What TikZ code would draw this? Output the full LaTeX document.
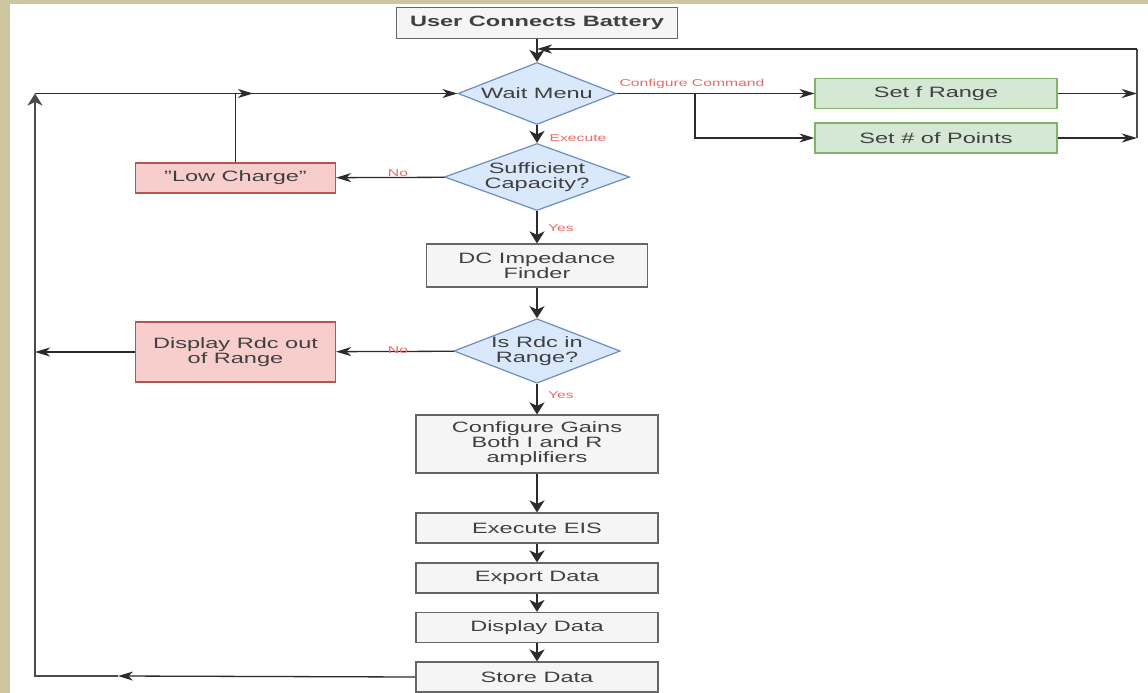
\documentclass[tikz,border=0pt]{standalone}
\usepackage{fontspec}
\setmainfont{Liberation Sans}[FakeStretch=1.57]
\usetikzlibrary{arrows.meta,shapes.geometric}

\definecolor{pagetan}{RGB}{205,197,160}
\definecolor{ink}{HTML}{2B2B2B}
\definecolor{boxfill}{HTML}{F5F5F5}
\definecolor{boxline}{HTML}{666666}
\definecolor{bluefill}{HTML}{DAE8FC}
\definecolor{blueline}{HTML}{6C8EBF}
\definecolor{redfill}{HTML}{F8CECC}
\definecolor{redline}{HTML}{B85450}
\definecolor{greenfill}{HTML}{D5E8D4}
\definecolor{greenline}{HTML}{82B366}
\definecolor{labelred}{HTML}{EA6B66}

\tikzset{
  base/.style={line width=1.2pt, text=ink!90, align=center, inner sep=0pt,
    font=\fontsize{15}{15}\selectfont},
  greybox/.style={base, rectangle, draw=boxline, fill=boxfill},
  redbox/.style={base, rectangle, draw=redline, fill=redfill},
  greenbox/.style={base, rectangle, draw=greenline, fill=greenfill},
  decision/.style={base, diamond, draw=blueline, fill=bluefill},
  vflow/.style={draw=ink, line width=2pt,
    -{Stealth[length=12pt,width=15pt,inset=3.5pt]}},
  hflow/.style={draw=ink, line width=1.3pt,
    -{Stealth[length=15pt,width=9pt,inset=4.5pt]}},
  bus/.style={draw=ink!85, line width=2.2pt},
  lbl/.style={text=labelred, inner sep=0pt,
    font=\fontsize{10}{10}\selectfont},
}

\begin{document}
\begin{tikzpicture}[x=1pt,y=-1pt]
  % page frame
  \fill[pagetan] (0,0) rectangle (1148,693);
  \fill[white] (10,4) rectangle (1148,693);
  \useasboundingbox (0,0) rectangle (1148,693);

  % main column
  \node[greybox, minimum width=281pt, minimum height=31pt, font=\fontsize{15}{15}\selectfont\bfseries]
    (ucb) at (537,23) {User Connects Battery};
  \node[decision, aspect=2.55, minimum width=158pt, minimum height=62pt] (wm) at (537,93.5) {Wait Menu};
  \node[decision, aspect=2.76, minimum width=185pt, minimum height=67pt] (sc) at (537,177) {Sufficient\\Capacity?};
  \node[greybox, minimum width=221pt, minimum height=43pt] (dc) at (537,265.5) {DC Impedance\\Finder};
  \node[decision, aspect=2.58, minimum width=160pt, minimum height=62pt] (ir) at (537,351) {Is Rdc in\\Range?};
  \node[greybox, minimum width=242pt, minimum height=58pt] (cg) at (537,444)
    {Configure Gains\\Both I and R\\amplifiers};
  \node[greybox, minimum width=242pt, minimum height=30pt] (ee) at (537,528) {Execute EIS};
  \node[greybox, minimum width=242pt, minimum height=30pt] (ed) at (537,578) {Export Data};
  \node[greybox, minimum width=242pt, minimum height=30pt] (dd) at (537,627.5) {Display Data};
  \node[greybox, minimum width=242pt, minimum height=30pt] (sd) at (537,677) {Store Data};

  % side boxes
  \node[greenbox, minimum width=242pt, minimum height=30pt] (sfr) at (936,93.5) {Set f Range};
  \node[greenbox, minimum width=242pt, minimum height=30pt] (snp) at (936,138) {Set \# of Points};
  \node[redbox, minimum width=200pt, minimum height=30pt] (lc) at (235.5,178) {\char34 Low Charge\char34};
  \node[redbox, minimum width=200pt, minimum height=60pt] (dr) at (235.5,352) {Display Rdc out\\of Range};

  % routing points
  \coordinate (rtop) at (1137,49);
  \coordinate (br) at (695,93.5);
  \coordinate (lt) at (35,93.5);
  \coordinate (lm) at (253,93.5);
  \coordinate (lb) at (35,676);
  \coordinate (bm) at (118,676);

  % main flow
  \draw[vflow] (ucb) -- (wm);
  \draw[vflow] (wm) -- (sc);
  \draw[vflow] (sc) -- (dc);
  \draw[vflow] (dc) -- (ir);
  \draw[vflow] (ir) -- (cg);
  \draw[vflow] (cg) -- (ee);
  \draw[vflow] (ee) -- (ed);
  \draw[vflow] (ed) -- (dd);
  \draw[vflow] (dd) -- (sd);

  % configuration branch and return
  \draw[hflow] (wm.east) -- (sfr.west);
  \draw[hflow] (br) |- (snp.west);
  \draw[hflow] (sfr.east) -- (sfr.east -| rtop);
  \draw[hflow] (snp.east) -- (snp.east -| rtop);
  \draw[bus] (snp.east -| rtop) -- (rtop);
  \draw[hflow] (rtop) -- (ucb.south |- rtop);

  % rejection branches
  \draw[hflow] (sc) -- (lc);
  \draw[hflow] (ir) -- (dr);
  \draw[hflow] (lc.north) |- (wm.west);
  \draw[hflow] (dr.west) -- (dr.west -| lb);

  % return from storing data
  \draw[hflow] (sd.west) -- (bm);
  \draw[bus, -{Stealth[length=12pt,width=15pt,inset=3.5pt]}] (bm) -- (lb) -- (lt);
  \draw[hflow] (lt) -- (lm);

  % edge labels
  \node[lbl] (lcc) at (692,84) {Configure Command};
  \node[lbl] (lex) at (578,138.5) {Execute};
  \node[lbl] (lno1) at (398,173) {No};
  \node[lbl] (lye1) at (561,228) {Yes};
  \node[lbl] (lno2) at (398,350.5) {No};
  \node[lbl] (lye2) at (561,395) {Yes};
\end{tikzpicture}
\end{document}
